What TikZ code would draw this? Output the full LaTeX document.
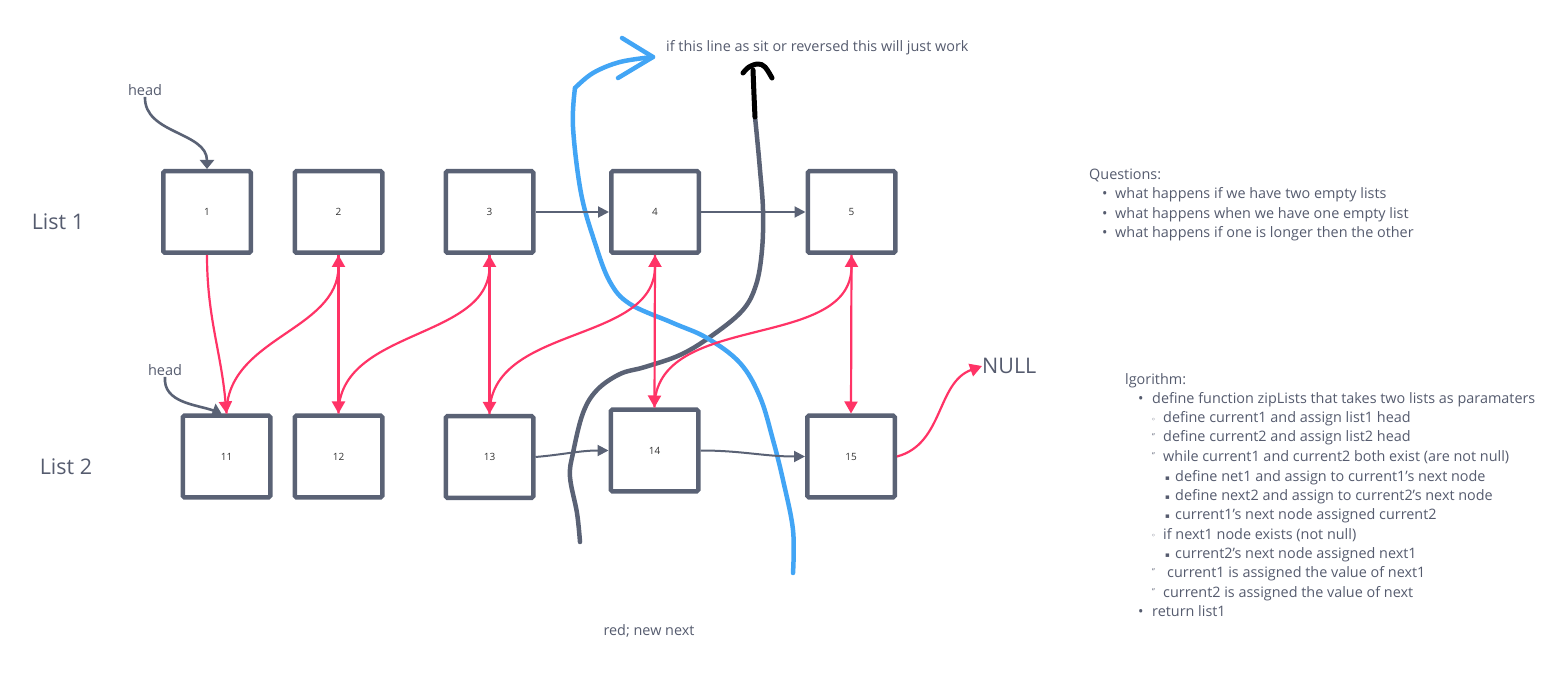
\documentclass[tikz,border=0pt]{standalone}
\usepackage{fontspec}
\setmainfont{Open Sans}
\newfontfamily\djv{DejaVu Sans}
\usetikzlibrary{arrows.meta}
\definecolor{slate}{HTML}{5A6275}
\definecolor{txt}{HTML}{555B6E}
\definecolor{redc}{HTML}{FF3366}
\definecolor{bluec}{HTML}{42A5F5}
\begin{document}
\begin{tikzpicture}[x=1pt,y=1pt,
  listbox/.style={draw=slate, line width=4.5pt, minimum width=87.5pt, minimum height=81.5pt,
    inner sep=0pt, rounded corners=1.5pt, font=\fontsize{10}{12}\selectfont, text=black!80},
  redarrow/.style={draw=redc, line width=2.2pt, -{Triangle[width=13pt,length=12pt]}},
  blkarrow/.style={draw=slate, line width=2pt, -{Triangle[width=11pt,length=11pt]}},
  headarrow/.style={draw=slate, line width=2.6pt, -{Triangle[width=14pt,length=9pt]}},
  freeblue/.style={draw=bluec, line width=4.5pt, line cap=round, line join=round},
  freegray/.style={draw=slate, line width=4.5pt, line cap=round, line join=round},
  freeblack/.style={draw=black, line width=5pt, line cap=round, line join=round},
  big/.style={text=txt, font=\fontsize{21.5}{24}\selectfont, inner sep=0pt},
  small/.style={text=txt, font=\fontsize{14.4}{16}\selectfont, inner sep=0pt, anchor=base west},
  listmark/.style={text=txt, inner sep=0pt, anchor=base west}
]
\useasboundingbox (0,0) rectangle (1553,-692);

% list 1
\node[listbox] (b1) at (207,-212) {1};
\node[listbox] (b2) at (338.5,-212) {2};
\node[listbox] (b3) at (489.5,-212) {3};
\node[listbox] (b4) at (655,-212) {4};
\node[listbox] (b5) at (851.5,-212) {5};
% list 2
\node[listbox] (b11) at (226.5,-456.5) {11};
\node[listbox] (b12) at (338.5,-456.5) {12};
\node[listbox] (b13) at (489.5,-457) {13};
\node[listbox] (b14) at (654.5,-450.5) {14};
\node[listbox] (b15) at (851,-456.5) {15};

\node[big] (list1) at (58,-222) {List 1};
\node[big] (list2) at (66,-467) {List 2};
\node[big, anchor=west] (null) at (982,-366) {NULL};

\node[text=txt, font=\fontsize{14.5}{16}\selectfont, inner sep=1pt] (head1) at (145,-90) {head};
\node[text=txt, font=\fontsize{14.5}{16}\selectfont, inner sep=1pt] (head2) at (165,-370) {head};

% freehand lines
\draw[freegray] plot[smooth, tension=0.6] coordinates {(580,-542) (577,-513) (570,-477) (573,-453) (583,-413) (597,-390) (620,-374) (645,-367) (680,-355) (710,-337) (742,-311) (756,-285) (762,-250) (763,-210) (760,-170) (757,-137) (755,-117)};
\draw[freeblack] plot[smooth, tension=0.6] coordinates {(755,-117) (754,-95) (753,-70)};
\draw[freeblack] plot[smooth, tension=0.6] coordinates {(743,-73) (749,-67) (758,-64) (765,-67) (772,-78)};

\draw[freeblue] plot[smooth, tension=0.6] coordinates {(793,-573) (793,-530) (783,-480) (773,-440) (760,-397) (740,-363) (707,-338) (673,-323) (630,-304) (610,-282) (595,-243) (581,-193) (573,-127) (575,-88)};
\draw[freeblue] plot[smooth, tension=0.6] coordinates {(575,-88) (593,-73) (620,-62) (653,-57)};
\draw[freeblue] (622,-38) -- (653,-57) -- (618,-78);

% black next arrows
\draw[blkarrow] (b3.east) -- (b4.west);
\draw[blkarrow] (b4.east) -- (b5.west);
\draw[blkarrow] (b13.east) to[out=5,in=180] (b14.west);
\draw[blkarrow] (b14.east) to[out=0,in=180] (b15.west);

% head arrows
\draw[headarrow] (head1.south) to[out=-92,in=90] (b1.north);
\draw[headarrow] (head2.south) to[out=-95,in=160] ([xshift=-5pt]b11.north);

% red new next arrows
\draw[redarrow] (b1.south) to[out=-90,in=95] (b11.north);
\draw[redarrow] (b11.north) to[out=90,in=-90] (b2.south);
\draw[redarrow] (b2.south) -- (b12.north);
\draw[redarrow] (b12.north) to[out=90,in=-90] (b3.south);
\draw[redarrow] (b3.south) -- (b13.north);
\draw[redarrow] (b13.north) to[out=90,in=-90] (b4.south);
\draw[redarrow] (b4.south) -- (b14.north);
\draw[redarrow] (b14.north) to[out=90,in=-90] (b5.south);
\draw[redarrow] (b5.south) -- (b15.north);
\draw[redarrow] (b15.east) to[out=15,in=200] (null.west);

% notes
\node[small] (note) at (666,-52) {if this line as sit or reversed this will just work};
\node[small, anchor=base] (rednote) at (649,-635) {red; new next};

% questions
\node[small] (q0) at (1089,-180) {Questions:};
\node[small] (q1m) at (1102,-199) {•};
\node[small] (q1) at (1115,-199) {what happens if we have two empty lists};
\node[small] (q2m) at (1102,-219) {•};
\node[small] (q2) at (1115,-219) {what happens when we have one empty list};
\node[small] (q3m) at (1102,-238) {•};
\node[small] (q3) at (1115,-238) {what happens if one is longer then the other};

% algorithm
\node[small] (a0) at (1125,-385) {lgorithm:};
\node[small] (a1m) at (1138,-404) {•};
\node[small] (a1) at (1152,-404) {define function zipLists that takes two lists as paramaters};
\node[listmark, font=\djv\fontsize{8}{8}\selectfont] (a2m) at (1151,-422) {◦};
\node[small] (a2) at (1163,-423) {define current1 and assign list1 head};
\node[listmark, font=\fontsize{8}{8}\selectfont] (a3m) at (1152,-439) {''};
\node[small] (a3) at (1163,-442) {define current2 and assign list2 head};
\node[listmark, font=\fontsize{8}{8}\selectfont] (a4m) at (1152,-458) {''};
\node[small] (a4) at (1163,-461) {while current1 and current2 both exist (are not null)};
\node[listmark, font=\djv\fontsize{7}{7}\selectfont] (a5m) at (1165,-480) {▪};
\node[small] (a5) at (1175,-481) {define net1 and assign to current1's next node};
\node[listmark, font=\djv\fontsize{7}{7}\selectfont] (a6m) at (1165,-499) {▪};
\node[small] (a6) at (1175,-500) {define next2 and assign to current2's next node};
\node[listmark, font=\djv\fontsize{7}{7}\selectfont] (a7m) at (1165,-518) {▪};
\node[small] (a7) at (1175,-519) {current1's next node assigned current2};
\node[listmark, font=\djv\fontsize{8}{8}\selectfont] (a8m) at (1151,-538) {◦};
\node[small] (a8) at (1163,-539) {if next1 node exists (not null)};
\node[listmark, font=\djv\fontsize{7}{7}\selectfont] (a9m) at (1165,-557) {▪};
\node[small] (a9) at (1175,-558) {current2's next node assigned next1};
\node[listmark, font=\fontsize{8}{8}\selectfont] (a10m) at (1152,-574) {''};
\node[small] (a10) at (1167,-577) {current1 is assigned the value of next1};
\node[listmark, font=\fontsize{8}{8}\selectfont] (a11m) at (1152,-594) {''};
\node[small] (a11) at (1163,-597) {current2 is assigned the value of next};
\node[small] (a12m) at (1138,-616) {•};
\node[small] (a12) at (1152,-616) {return list1};
\end{tikzpicture}
\end{document}
